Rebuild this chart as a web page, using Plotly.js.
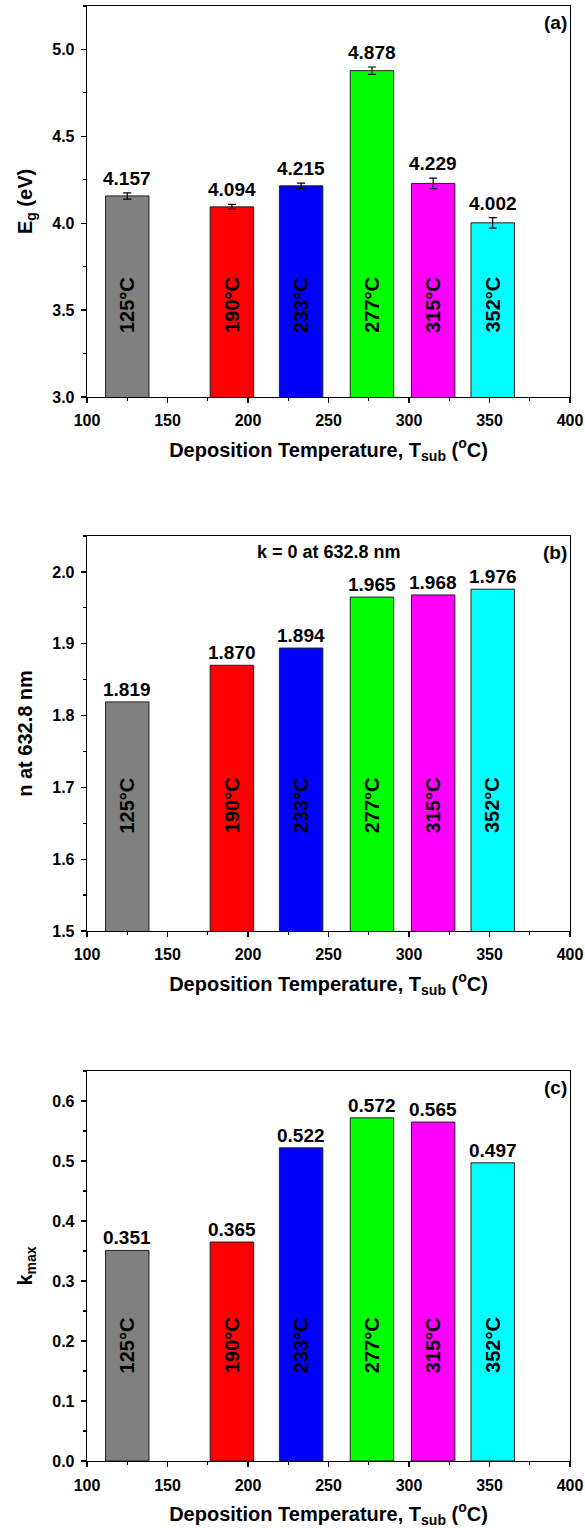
<!DOCTYPE html>
<html>
<head>
<meta charset="utf-8">
<script src="https://cdn.plot.ly/plotly-3.0.1.min.js"></script>
<style>html,body{margin:0;padding:0;background:#fff;}#chart{width:585px;height:1528px;}</style>
</head>
<body>
<div id="chart"></div>
<script>
const temps = [125, 190, 233, 277, 315, 352];
const tempLabels = ["125°C", "190°C", "233°C", "277°C", "315°C", "352°C"];
const barColors = ["#808080", "#ff0000", "#0000ff", "#00ff00", "#ff00ff", "#00ffff"];
const egValues = [4.157, 4.094, 4.215, 4.878, 4.229, 4.002];
const egErrors = [0.018, 0.014, 0.016, 0.021, 0.030, 0.030];
const nValues = [1.819, 1.870, 1.894, 1.965, 1.968, 1.976];
const kValues = [0.351, 0.365, 0.522, 0.572, 0.565, 0.497];
const egLabels = ["4.157", "4.094", "4.215", "4.878", "4.229", "4.002"];
const nLabels = ["1.819", "1.870", "1.894", "1.965", "1.968", "1.976"];
const kLabels = ["0.351", "0.365", "0.522", "0.572", "0.565", "0.497"];

const FONT = "Liberation Sans, Arial, sans-serif";
const barWidth = 27;

function barTrace(vals, xa, ya, errs) {
  const t = {
    type: "bar", x: temps, y: vals, width: temps.map(() => barWidth),
    xaxis: xa, yaxis: ya,
    marker: {color: barColors, line: {color: "#222", width: 1}},
    showlegend: false, hoverinfo: "skip"
  };
  if (errs) t.error_y = {type: "data", array: errs, visible: true, color: "#000", thickness: 1.2, width: 4};
  return t;
}

const traces = [
  barTrace(egValues, "x", "y", egErrors),
  barTrace(nValues, "x2", "y2"),
  barTrace(kValues, "x3", "y3")
];

const annotations = [];
function addLabels(vals, labels, errs, xref, yref, insideY) {
  vals.forEach((v, i) => {
    annotations.push({
      x: temps[i], y: v + (errs ? errs[i] : 0), xref: xref, yref: yref,
      text: "<b>" + labels[i] + "</b>", showarrow: false, yanchor: "bottom", yshift: errs ? 2 : 0,
      font: {family: FONT, size: 19, color: "#000"}
    });
    annotations.push({
      x: temps[i], y: insideY, xref: xref, yref: yref,
      text: "<b>" + tempLabels[i] + "</b>", showarrow: false, textangle: -90,
      font: {family: FONT, size: 20, color: "#000"}
    });
  });
}
addLabels(egValues, egLabels, egErrors, "x", "y", 3.53);
addLabels(nValues, nLabels, null, "x2", "y2", 1.675);
addLabels(kValues, kLabels, null, "x3", "y3", 0.193);

const panelLabels = [["(a)", "x", "y"], ["(b)", "x2", "y2"], ["(c)", "x3", "y3"]];
panelLabels.forEach(([t, xa, ya]) => {
  annotations.push({
    x: 0.997, y: 0.99, xref: xa + " domain", yref: ya + " domain",
    text: "<b>" + t + "</b>", showarrow: false, xanchor: "right", yanchor: "top",
    font: {family: FONT, size: 19, color: "#000"}
  });
});
annotations.push({
  x: 0.5, y: 0.99, xref: "x2 domain", yref: "y2 domain",
  text: "<b>k = 0 at 632.8 nm</b>", showarrow: false, xanchor: "center", yanchor: "top",
  font: {family: FONT, size: 18, color: "#000"}
});

const xTitle = "<b>Deposition Temperature, T<sub>sub</sub> (<sup>o</sup>C)</b>";

function xaxis(anchor) {
  return {
    anchor: anchor, range: [100, 400], tickvals: [100, 150, 200, 250, 300, 350, 400],
    ticks: "outside", ticklen: 5, tickwidth: 1.2, tickcolor: "#000", ticklabelstandoff: 4,
    minor: {dtick: 25, tick0: 100, ticks: "outside", ticklen: 3, tickwidth: 1.2, tickcolor: "#000"},
    showline: true, linecolor: "#000", linewidth: 1.3, mirror: true, showgrid: false, zeroline: false,
    tickfont: {family: FONT, size: 16, color: "#000", weight: "bold"},
    title: {text: xTitle, font: {family: FONT, size: 20, color: "#000"}, standoff: 14}
  };
}
function yaxis(domain, range, dtick, title, fmt) {
  return {
    domain: domain, range: range, dtick: dtick, tick0: 0, tickformat: fmt,
    ticks: "outside", ticklen: 5, tickwidth: 1.2, tickcolor: "#000", ticklabelstandoff: 3,
    minor: {dtick: dtick / 2, ticks: "outside", ticklen: 3, tickwidth: 1.2, tickcolor: "#000"},
    showline: true, linecolor: "#000", linewidth: 1.3, mirror: true, showgrid: false, zeroline: false,
    tickfont: {family: FONT, size: 16, color: "#000", weight: "bold"},
    title: {text: title, font: {family: FONT, size: 20, color: "#000"}, standoff: 14}
  };
}

const layout = {
  width: 585, height: 1528,
  margin: {l: 87, r: 15, t: 6, b: 67},
  paper_bgcolor: "#fff", plot_bgcolor: "#fff",
  bargap: 0,
  xaxis: xaxis("y"),
  xaxis2: xaxis("y2"),
  xaxis3: xaxis("y3"),
  yaxis: yaxis([0.7313, 1.0], [3.0, 5.25], 0.5, "<b>E<sub>g</sub> (eV)</b>", ".1f"),
  yaxis2: yaxis([0.3643, 0.6357], [1.5, 2.05], 0.1, "<b>n at 632.8 nm</b>", ".1f"),
  yaxis3: yaxis([0, 0.268], [0, 0.65], 0.1, "<b>k<sub>max</sub></b>", ".1f"),
  annotations: annotations
};

Plotly.newPlot("chart", traces, layout, {displayModeBar: false, staticPlot: true});
</script>
</body>
</html>
